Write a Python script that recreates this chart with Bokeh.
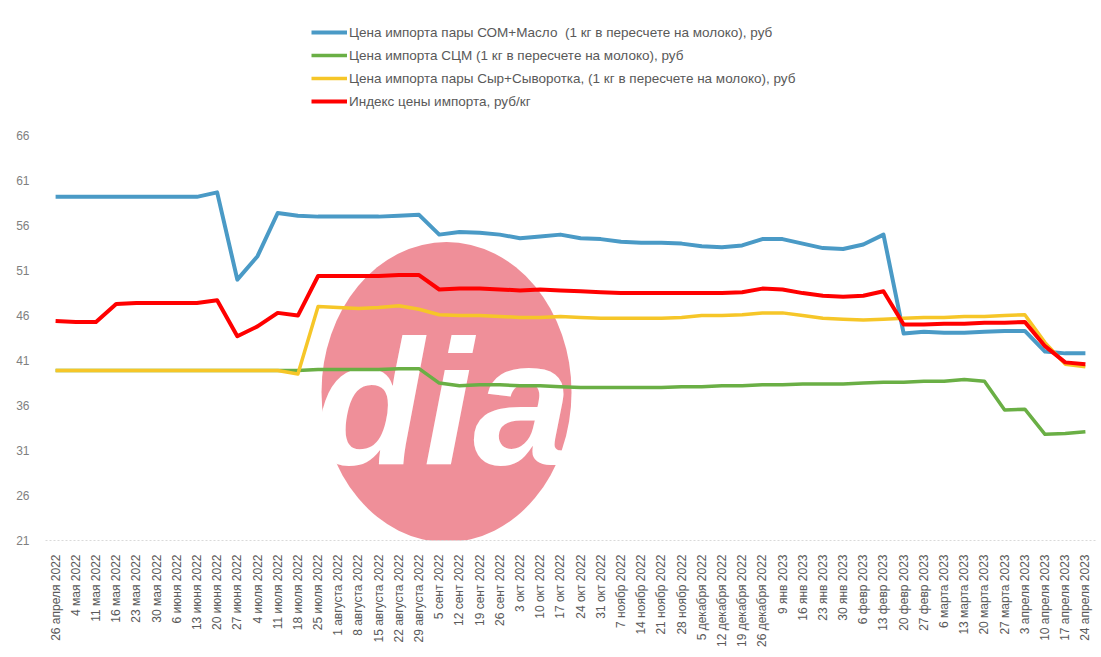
import math
from bokeh.plotting import figure
from bokeh.models import FixedTicker, Range1d, Legend, LegendItem
from bokeh.core.properties import value
from bokeh.embed import file_html
from bokeh.resources import INLINE

dates = ["26 апреля 2022", "4 мая 2022", "11 мая 2022", "16 мая 2022", "23 мая 2022", "30 мая 2022",
         "6 июня 2022", "13 июня 2022", "20 июня 2022", "27 июня 2022", "4 июля 2022", "11 июля 2022",
         "18 июля 2022", "25 июля 2022", "1 августа 2022", "8 августа 2022", "15 августа 2022",
         "22 августа 2022", "29 августа 2022", "5 сент 2022", "12 сент 2022", "19 сент 2022",
         "26 сент 2022", "3 окт 2022", "10 окт 2022", "17 окт 2022", "24 окт 2022", "31 окт 2022",
         "7 ноябр 2022", "14 ноябр 2022", "21 ноябр 2022", "28 ноябр 2022", "5 декабря 2022",
         "12 декабря 2022", "19 декабря 2022", "26 декабря 2022", "9 янв 2023", "16 янв 2023",
         "23 янв 2023", "30 янв 2023", "6 февр 2023", "13 февр 2023", "20 февр 2023", "27 февр 2023",
         "6 марта 2023", "13 марта 2023", "20 марта 2023", "27 марта 2023", "3 апреля 2023",
         "10 апреля 2023", "17 апреля 2023", "24 апреля 2023"]

som_maslo = [59.2, 59.2, 59.2, 59.2, 59.2, 59.2, 59.2, 59.2, 59.7, 50.0, 52.6, 57.4, 57.1,
             57.0, 57.0, 57.0, 57.0, 57.1, 57.2, 55.0, 55.3, 55.2, 55.0, 54.6, 54.8, 55.0,
             54.6, 54.5, 54.2, 54.1, 54.1, 54.0, 53.7, 53.6, 53.8, 54.5, 54.5, 54.0, 53.5,
             53.4, 53.9, 55.0, 44.0, 44.2, 44.1, 44.1, 44.2, 44.3, 44.3, 42.0, 41.8, 41.8]

scm = [39.9, 39.9, 39.9, 39.9, 39.9, 39.9, 39.9, 39.9, 39.9, 39.9, 39.9, 39.9, 39.9,
       40.0, 40.0, 40.0, 40.0, 40.1, 40.1, 38.5, 38.2, 38.3, 38.3, 38.2, 38.2, 38.1,
       38.0, 38.0, 38.0, 38.0, 38.0, 38.1, 38.1, 38.2, 38.2, 38.3, 38.3, 38.4, 38.4,
       38.4, 38.5, 38.6, 38.6, 38.7, 38.7, 38.9, 38.7, 35.5, 35.6, 32.8, 32.9, 33.1]

syr_syv = [39.9, 39.9, 39.9, 39.9, 39.9, 39.9, 39.9, 39.9, 39.9, 39.9, 39.9, 39.9, 39.5,
           47.0, 46.9, 46.8, 46.9, 47.1, 46.7, 46.1, 46.0, 46.0, 45.9, 45.8, 45.8, 45.9,
           45.8, 45.7, 45.7, 45.7, 45.7, 45.8, 46.0, 46.0, 46.1, 46.3, 46.3, 46.0, 45.7,
           45.6, 45.5, 45.6, 45.7, 45.8, 45.8, 45.9, 45.9, 46.0, 46.1, 43.0, 40.6, 40.3]

index_price = [45.4, 45.3, 45.3, 47.3, 47.4, 47.4, 47.4, 47.4, 47.7, 43.7, 44.8, 46.3, 46.0,
               50.4, 50.4, 50.4, 50.4, 50.5, 50.5, 48.9, 49.0, 49.0, 48.9, 48.8, 48.9, 48.8,
               48.7, 48.6, 48.5, 48.5, 48.5, 48.5, 48.5, 48.5, 48.6, 49.0, 48.9, 48.5, 48.2,
               48.1, 48.2, 48.7, 45.0, 45.0, 45.1, 45.1, 45.2, 45.2, 45.3, 42.6, 40.8, 40.6]

y_ticks = [21, 26, 31, 36, 41, 46, 51, 56, 61, 66]

labels = ["Цена импорта пары СОМ+Масло  (1 кг в пересчете на молоко), руб",
          "Цена импорта СЦМ (1 кг в пересчете на молоко), руб",
          "Цена импорта пары Сыр+Сыворотка, (1 кг в пересчете на молоко), руб",
          "Индекс цены импорта, руб/кг"]

FONT = "Liberation Sans"
xs = list(range(len(dates)))

p = figure(frame_width=1050, frame_height=520, output_backend="svg", toolbar_location=None,
           x_range=Range1d(-0.5, len(dates) - 0.5), y_range=Range1d(21, 78.8),
           min_border_left=45, min_border_right=4, min_border_top=20, min_border_bottom=115)
p.outline_line_color = None
p.xgrid.visible = False
p.ygrid.visible = False
p.background_fill_color = "white"
p.border_fill_color = "white"

# watermark logo
p.ellipse(x=[19.36], y=[37.5], width=250, height=300, width_units="screen", height_units="screen",
          fill_color="#ef8f99", line_color=None)
p.text(x=[19.2], y=[36.3], text=["dia"], text_font=value(FONT), text_font_style="bold italic",
       text_font_size="178px", text_color="white", text_align="center", text_baseline="middle")

r_blue = p.line(xs, som_maslo, line_color="#4a9ac6", line_width=4, line_join="round")
r_green = p.line(xs, scm, line_color="#6aaf45", line_width=3.5, line_join="round")
r_yellow = p.line(xs, syr_syv, line_color="#f6c628", line_width=3.5, line_join="round")
r_red = p.line(xs, index_price, line_color="#ff0000", line_width=4, line_join="round")

legend = Legend(items=[LegendItem(label=labels[0], renderers=[r_blue]),
                       LegendItem(label=labels[1], renderers=[r_green]),
                       LegendItem(label=labels[2], renderers=[r_yellow]),
                       LegendItem(label=labels[3], renderers=[r_red])],
                location=(266, 430))
legend.label_text_font = FONT
legend.label_text_font_size = "13.5px"
legend.label_text_color = "#595959"
legend.glyph_width = 36
legend.glyph_height = 18
legend.spacing = 5
legend.padding = 1
legend.margin = 0
legend.label_standoff = 2
legend.border_line_color = None
legend.background_fill_alpha = 0
p.add_layout(legend)

p.yaxis.ticker = FixedTicker(ticks=y_ticks)
p.yaxis.axis_line_color = None
p.yaxis.major_tick_line_color = None
p.yaxis.minor_tick_line_color = None
p.yaxis.major_label_text_font = FONT
p.yaxis.major_label_text_font_size = "12px"
p.yaxis.major_label_text_color = "#7f7f7f"
p.yaxis.major_label_standoff = 10

p.xaxis.ticker = FixedTicker(ticks=xs)
p.xaxis.major_label_overrides = {i: d for i, d in enumerate(dates)}
p.xaxis.major_label_orientation = math.pi / 2
p.xaxis.axis_line_color = "#d9d9d9"
p.xaxis.axis_line_dash = "2 2"
p.xaxis.major_tick_line_color = None
p.xaxis.minor_tick_line_color = None
p.xaxis.major_label_text_font = FONT
p.xaxis.major_label_text_font_size = "12px"
p.xaxis.major_label_text_color = "#595959"
p.xaxis.major_label_standoff = 8

open("out.html", "w").write(file_html(p, INLINE))
